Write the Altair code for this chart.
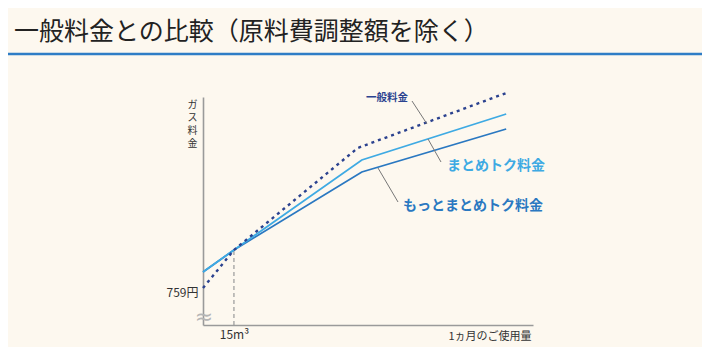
import altair as alt
import pandas as pd

# ---- data (y in arbitrary fee units, broken axis) ----
usage_general = [0, 15, 75, 147]
fee_general = [37, 75, 177, 232]          # 一般料金
usage_matome = [0, 15, 77, 147]
fee_matome = [53, 75, 165, 211]           # まとめトク料金
usage_motto = [0, 15, 77, 147]
fee_motto = [53, 75, 153, 196]            # もっとまとめトク料金

series_names = ["一般料金", "まとめトク料金", "もっとまとめトク料金"]
series_colors = ["#2b428f", "#3eaae3", "#2a78c1"]

base_fee_value = 37
base_fee_label = "759円"
threshold_usage = 15
threshold_label = "15m³"
title_text = "一般料金との比較（原料費調整額を除く）"
x_title = "1ヵ月のご使用量"
y_title = ["ガ", "ス", "料", "金"]

rows = []
for name, xs, ys in zip(series_names,
                        [usage_general, usage_matome, usage_motto],
                        [fee_general, fee_matome, fee_motto]):
    for x, y in zip(xs, ys):
        rows.append({"series": name, "usage": x, "fee": y})
df = pd.DataFrame(rows)

FONT = "Noto Sans CJK JP"
BG = "#fdf8ef"

xscale = alt.Scale(domain=[0, 160], nice=False, zero=False)
yscale = alt.Scale(domain=[0, 228], nice=False, zero=False)

x_enc = alt.X("usage:Q", scale=xscale,
              axis=alt.Axis(values=[threshold_usage],
                            labelExpr=f"'{threshold_label}'",
                            title=x_title, titleAnchor="end", titleAlign="right",
                            titleX=328, titleY=11, titleBaseline="middle",
                            titleFontSize=11, titleFontWeight="normal",
                            labelFontSize=12, labelPadding=4))
y_enc = alt.Y("fee:Q", scale=yscale,
              axis=alt.Axis(values=[base_fee_value],
                            labelExpr=f"'{base_fee_label}'",
                            labelFontSize=12, labelPadding=5, labelOffset=4,
                            title=y_title, titleAngle=0, titleAlign="center",
                            titleBaseline="top", titleX=-11, titleY=2,
                            titleFontSize=10, titleLineHeight=13,
                            titleFontWeight="normal"))

def line_layer(i, **kw):
    return alt.Chart(df).transform_filter(
        alt.datum.series == series_names[i]
    ).mark_line(color=series_colors[i], **kw).encode(x=x_enc, y=y_enc)

motto_line = line_layer(2, strokeWidth=1.8)
matome_line = line_layer(1, strokeWidth=1.8)
general_line = line_layer(0, strokeWidth=2.4, strokeDash=[3, 4])

# dashed vertical guide at 15 m3
guide_df = pd.DataFrame({"usage": [threshold_usage], "fee": [0],
                         "fee2": [fee_general[1]]})
guide = alt.Chart(guide_df).mark_rule(color="#999", strokeDash=[4, 3],
                                      strokeWidth=1.2).encode(
    x=alt.X("usage:Q", scale=xscale), y=alt.Y("fee:Q", scale=yscale),
    y2="fee2:Q")

# series labels and leader lines
def label(text, color, size, x, y, align="left"):
    return alt.Chart(pd.DataFrame({"t": [text]})).mark_text(
        color=color, fontSize=size, fontWeight="bold", font=FONT,
        align=align, baseline="middle").encode(
        text="t:N", x=alt.value(x), y=alt.value(y))

def leader(x1, y1, x2, y2):
    return alt.Chart(pd.DataFrame({"a": [0]})).mark_rule(
        color="#777", strokeWidth=1).encode(
        x=alt.value(x1), y=alt.value(y1), x2=alt.value(x2), y2=alt.value(y2))

lab_general = label(series_names[0], series_colors[0], 10.5, 184, 1, "center")
lab_matome = label(series_names[1], series_colors[1], 14, 244, 69)
lab_motto = label(series_names[2], series_colors[2], 14, 200, 109)
lead1 = leader(209, 4, 224, 27)
lead2 = leader(225, 42, 238, 65)
lead3 = leader(175, 71, 195, 105)

# broken-axis mark
squiggle = alt.Chart(pd.DataFrame({"t": ["≈"]})).mark_text(
    color="#b5b5b5", fontSize=22, font="DejaVu Sans", align="center",
    baseline="middle").encode(text="t:N", x=alt.value(1), y=alt.value(220))

# page title and rule
title = alt.Chart(pd.DataFrame({"t": [title_text]})).mark_text(
    color="#222", fontSize=25, font=FONT, align="left",
    baseline="middle").encode(text="t:N", x=alt.value(-189), y=alt.value(-65))
title_rule = alt.Chart(pd.DataFrame({"a": [0]})).mark_rule(
    color="#2f7dc6", strokeWidth=2.5).encode(
    x=alt.value(-205), x2=alt.value(505), y=alt.value(-43))

chart = alt.layer(
    guide, motto_line, matome_line, general_line,
    lead1, lead2, lead3, lab_general, lab_matome, lab_motto,
    squiggle, title, title_rule
).properties(
    width=330, height=228,
    autosize=alt.AutoSizeParams(type="none"),
    padding={"left": 195, "top": 89, "right": 169, "bottom": 22},
    background=BG,
).configure_view(
    stroke=None
).configure_axis(
    domainColor="#9a9a9a", domainWidth=1.6, ticks=False, grid=False,
    labelColor="#333", titleColor="#333", labelFont=FONT, titleFont=FONT,
)

chart.save("out.html", embed_options={"renderer": "svg", "actions": False})
